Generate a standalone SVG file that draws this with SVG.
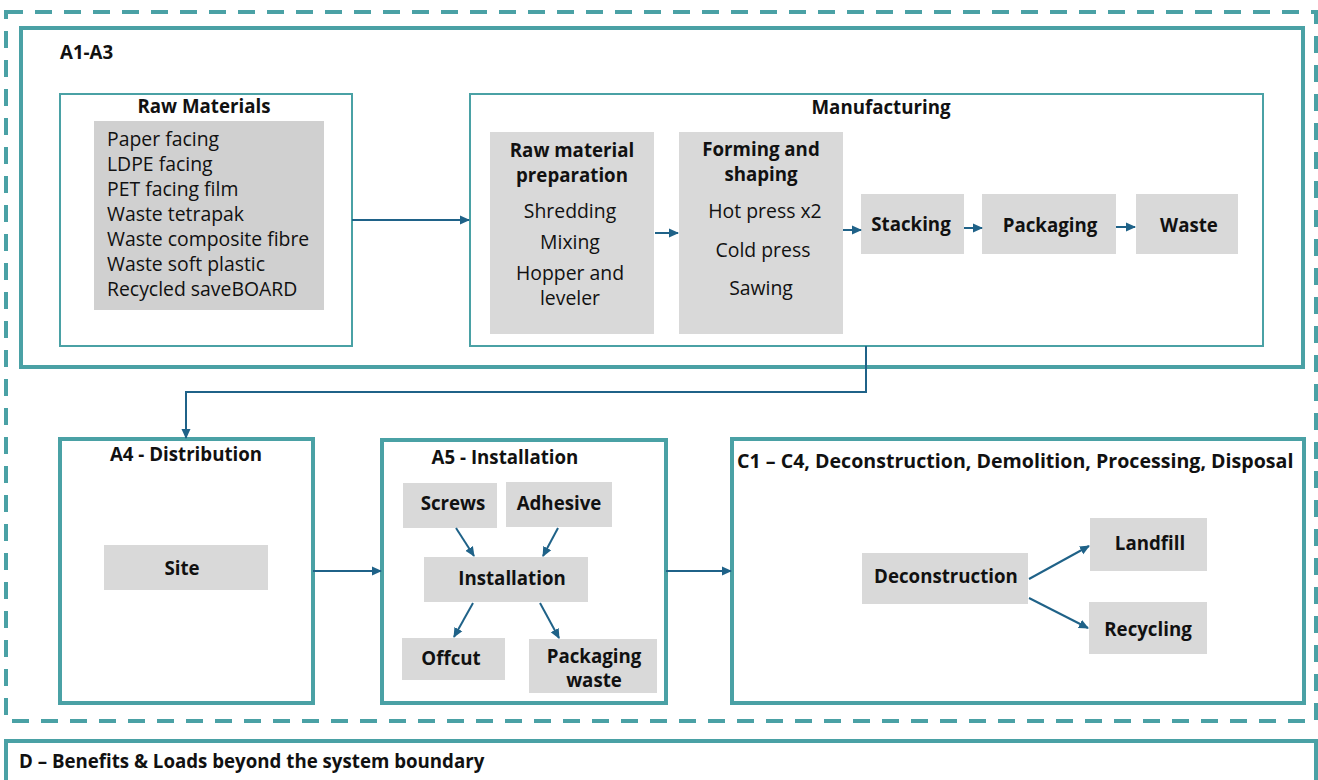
<svg xmlns="http://www.w3.org/2000/svg" width="1318" height="780" viewBox="0 0 1318 780">
<defs>
<marker id="ah" markerUnits="userSpaceOnUse" markerWidth="10" markerHeight="10" viewBox="0 0 10 10" refX="9" refY="5" orient="auto">
<path d="M0,0.5 L10,5 L0,9.5 Z" fill="#1f6288"/>
</marker>
<style>
.bnd{fill:none;stroke:#4aa1a5;stroke-width:4}
.thin{fill:#fff;stroke:#4aa1a5;stroke-width:2}
.thick{fill:#fff;stroke:#4aa1a5;stroke-width:4}
.dash{fill:none;stroke:#4aa1a5;stroke-width:4;stroke-dasharray:17 12}
.g{fill:#d9d9d9}
.g2{fill:#d0d0d0}
.b{font-family:"Open Sans","Noto Sans",sans-serif;font-weight:bold;font-size:18.7px;fill:#111}
.r{font-family:"Open Sans","Noto Sans",sans-serif;font-size:19.4px;fill:#111}
.c{text-anchor:middle}
.con{fill:none;stroke:#1f6288;stroke-width:2;marker-end:url(#ah)}
</style>
</defs>
<rect width="1318" height="780" fill="#fff"/>
<rect class="dash" x="6" y="12" width="1310" height="709"/>
<g id="A1A3">
<rect class="bnd" x="21" y="28" width="1282" height="339"/>
<text class="b" x="60" y="59">A1-A3</text>
</g>
<g id="raw-materials">
<rect class="thin" x="60" y="94" width="292" height="252"/>
<text class="b c" x="204" y="113">Raw Materials</text>
<rect class="g2" x="94" y="121" width="230" height="189"/>
<text class="r" x="107" y="146">Paper facing</text>
<text class="r" x="107" y="171">LDPE facing</text>
<text class="r" x="107" y="196">PET facing film</text>
<text class="r" x="107" y="221">Waste tetrapak</text>
<text class="r" x="107" y="246">Waste composite fibre</text>
<text class="r" x="107" y="271">Waste soft plastic</text>
<text class="r" x="107" y="296">Recycled saveBOARD</text>
</g>
<g id="manufacturing">
<rect class="thin" x="470" y="94" width="793" height="252"/>
<text class="b c" x="881" y="114">Manufacturing</text>
</g>
<g id="raw-prep">
<rect class="g" x="490" y="132" width="164" height="202"/>
<text class="b c" x="572" y="157">Raw material</text>
<text class="b c" x="572" y="182">preparation</text>
<text class="r c" x="570" y="218">Shredding</text>
<text class="r c" x="570" y="249">Mixing</text>
<text class="r c" x="570" y="280">Hopper and</text>
<text class="r c" x="570" y="305">leveler</text>
</g>
<g id="forming">
<rect class="g" x="679" y="132" width="164" height="202"/>
<text class="b c" x="761" y="156">Forming and</text>
<text class="b c" x="761" y="181">shaping</text>
<text class="r c" x="765" y="218">Hot press x2</text>
<text class="r c" x="763" y="257">Cold press</text>
<text class="r c" x="761" y="295">Sawing</text>
</g>
<g id="stacking">
<rect class="g" x="861" y="194" width="103" height="60"/>
<text class="b c" x="911" y="231">Stacking</text>
</g>
<g id="packaging">
<rect class="g" x="982" y="194" width="134" height="60"/>
<text class="b c" x="1050" y="232">Packaging</text>
</g>
<g id="waste">
<rect class="g" x="1136" y="194" width="102" height="60"/>
<text class="b c" x="1189" y="232">Waste</text>
</g>
<g id="A4">
<rect class="thick" x="60" y="439" width="253" height="264"/>
<text class="b c" x="186" y="461">A4 - Distribution</text>
<rect class="g" x="104" y="545" width="164" height="45"/>
<text class="b c" x="182" y="575">Site</text>
</g>
<g id="A5">
<rect class="thick" x="382" y="440" width="284" height="263"/>
<text class="b c" x="505" y="464">A5 - Installation</text>
</g>
<g id="screws">
<rect class="g" x="403" y="483" width="94" height="45"/>
<text class="b c" x="453" y="510">Screws</text>
</g>
<g id="adhesive">
<rect class="g" x="506" y="482" width="106" height="45"/>
<text class="b c" x="559" y="510">Adhesive</text>
</g>
<g id="installation">
<rect class="g" x="424" y="557" width="164" height="45"/>
<text class="b c" x="512" y="585">Installation</text>
</g>
<g id="offcut">
<rect class="g" x="402" y="638" width="103" height="42"/>
<text class="b c" x="451" y="665">Offcut</text>
</g>
<g id="packaging-waste">
<rect class="g" x="529" y="639" width="128" height="54"/>
<text class="b c" x="594" y="663">Packaging</text>
<text class="b c" x="594" y="687">waste</text>
</g>
<g id="C1C4">
<rect class="thick" x="732" y="439" width="572" height="264"/>
<text class="b" x="737" y="468" style="font-size:19.6px">C1 – C4, Deconstruction, Demolition, Processing, Disposal</text>
</g>
<g id="deconstruction">
<rect class="g" x="862" y="553" width="166" height="51"/>
<text class="b c" x="946" y="583">Deconstruction</text>
</g>
<g id="landfill">
<rect class="g" x="1090" y="518" width="117" height="53"/>
<text class="b c" x="1150" y="550">Landfill</text>
</g>
<g id="recycling">
<rect class="g" x="1089" y="602" width="118" height="52"/>
<text class="b c" x="1148" y="636">Recycling</text>
</g>
<g id="D">
<rect class="thick" x="6" y="741" width="1310" height="60"/>
<text class="b" x="19" y="768">D – Benefits &amp; Loads beyond the system boundary</text>
</g>
<g id="connectors">
<path class="con" d="M352,220 H469"/>
<path class="con" d="M655,233 H678"/>
<path class="con" d="M843,230 H861"/>
<path class="con" d="M964,228 H982"/>
<path class="con" d="M1116,227 H1135"/>
<path class="con" d="M866,346 V392 H186 V438"/>
<path class="con" d="M313,571 H381"/>
<path class="con" d="M456,528 L474,556"/>
<path class="con" d="M558,528 L543,556"/>
<path class="con" d="M473,603 L454,637"/>
<path class="con" d="M540,603 L559,638"/>
<path class="con" d="M666,571 H731"/>
<path class="con" d="M1029,579 L1089,546"/>
<path class="con" d="M1029,598 L1088,628"/>
</g>
</svg>
